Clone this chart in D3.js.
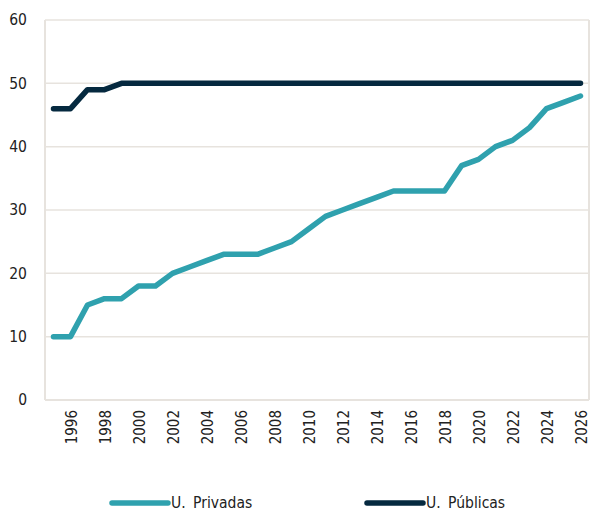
<!DOCTYPE html>
<html>
<head>
<meta charset="utf-8">
<script src="https://cdn.jsdelivr.net/npm/d3@7"></script>
<style>
  body { margin: 0; background: #fff; }
  svg text { font-family: "DejaVu Sans Condensed", "DejaVu Sans", sans-serif; font-stretch: condensed; fill: #222; }
</style>
</head>
<body>
<div class="vis-holder"></div>
<script>
// years on the x axis
var years = d3.range(1995, 2027);
// private universities (U. Privadas)
var privadas = [10, 10, 15, 16, 16, 18, 18, 20, 21, 22, 23, 23, 23, 24, 25, 27,
                29, 30, 31, 32, 33, 33, 33, 33, 37, 38, 40, 41, 43, 46, 47, 48];
// public universities (U. Públicas)
var publicas = [46, 46, 49, 49, 50, 50, 50, 50, 50, 50, 50, 50, 50, 50, 50, 50,
                50, 50, 50, 50, 50, 50, 50, 50, 50, 50, 50, 50, 50, 50, 50, 50];
var yTicks = [0, 10, 20, 30, 40, 50, 60];
var seriesNames = ["U. Privadas", "U. Públicas"];
var colors = ["#2fa1ae", "#05293f"];

var width = 591;
var height = 511;
var margin = { top: 20, bottom: 111, left: 45, right: 2 };

var svg = d3.select(".vis-holder")
            .append("svg")
            .attr("width", width)
            .attr("height", height);

// band scale, lines drawn through band centres
var xScale = d3.scaleBand()
               .domain(years)
               .range([margin.left, width - margin.right]);

var yScale = d3.scaleLinear()
               .domain([0, 60])
               .range([height - margin.bottom, margin.top]);

var gridColor = "#e7e3de";

// horizontal grid lines
svg.append("g")
   .selectAll("line")
   .data(yTicks)
   .enter()
   .append("line")
   .attr("x1", margin.left)
   .attr("x2", width - margin.right)
   .attr("y1", function(d) { return yScale(d); })
   .attr("y2", function(d) { return yScale(d); })
   .attr("stroke", gridColor)
   .attr("stroke-width", 1.5);

// frame left / right / bottom
svg.append("line")
   .attr("x1", margin.left).attr("x2", margin.left)
   .attr("y1", yScale(60)).attr("y2", yScale(0))
   .attr("stroke", gridColor).attr("stroke-width", 2);
svg.append("line")
   .attr("x1", width - margin.right).attr("x2", width - margin.right)
   .attr("y1", yScale(60)).attr("y2", yScale(0))
   .attr("stroke", gridColor).attr("stroke-width", 2);
svg.append("line")
   .attr("x1", margin.left).attr("x2", width - margin.right)
   .attr("y1", yScale(0)).attr("y2", yScale(0))
   .attr("stroke", gridColor).attr("stroke-width", 2);

// y axis labels
var yAxis = svg.append("g")
               .attr("transform", "translate(" + margin.left + ",0)")
               .call(d3.axisLeft(yScale).tickValues(yTicks).tickSize(0).tickPadding(18));
yAxis.select(".domain").remove();
yAxis.selectAll("text")
     .style("font-size", "15.5px")
     .style("font-family", null);

// x axis labels, every other year, rotated
var xAxis = svg.append("g")
               .attr("transform", "translate(0," + yScale(0) + ")")
               .call(d3.axisBottom(xScale)
                       .tickValues(years.filter(function(d) { return d % 2 === 0; }))
                       .tickSize(0));
xAxis.select(".domain").remove();
xAxis.selectAll("text")
     .style("font-size", "15px")
     .style("font-family", null)
     .attr("text-anchor", "end")
     .attr("transform", "rotate(-90)")
     .attr("x", -10)
     .attr("y", 1.5)
     .attr("dy", "0.35em");

var line = d3.line()
             .x(function(d, i) { return xScale(years[i]) + xScale.bandwidth() / 2; })
             .y(function(d) { return yScale(d); });

[privadas, publicas].forEach(function(s, i) {
  svg.append("path")
     .attr("d", line(s))
     .attr("fill", "none")
     .attr("stroke", colors[i])
     .attr("stroke-width", 5.5)
     .attr("stroke-linecap", "round")
     .attr("stroke-linejoin", "round");
});

// legend
var legendX = [112, 367];
var legend = svg.append("g")
                .selectAll("g")
                .data(seriesNames)
                .enter()
                .append("g")
                .attr("transform", function(d, i) { return "translate(" + legendX[i] + ",503)"; });
legend.append("line")
      .attr("x1", 0).attr("x2", 56)
      .attr("stroke", function(d, i) { return colors[i]; })
      .attr("stroke-width", 5.5)
      .attr("stroke-linecap", "round");
legend.append("text")
      .attr("x", 59)
      .attr("dy", "0.35em")
      .style("font-size", "15.5px")
      .style("word-spacing", "3px")
      .text(function(d) { return d; });
</script>
</body>
</html>
